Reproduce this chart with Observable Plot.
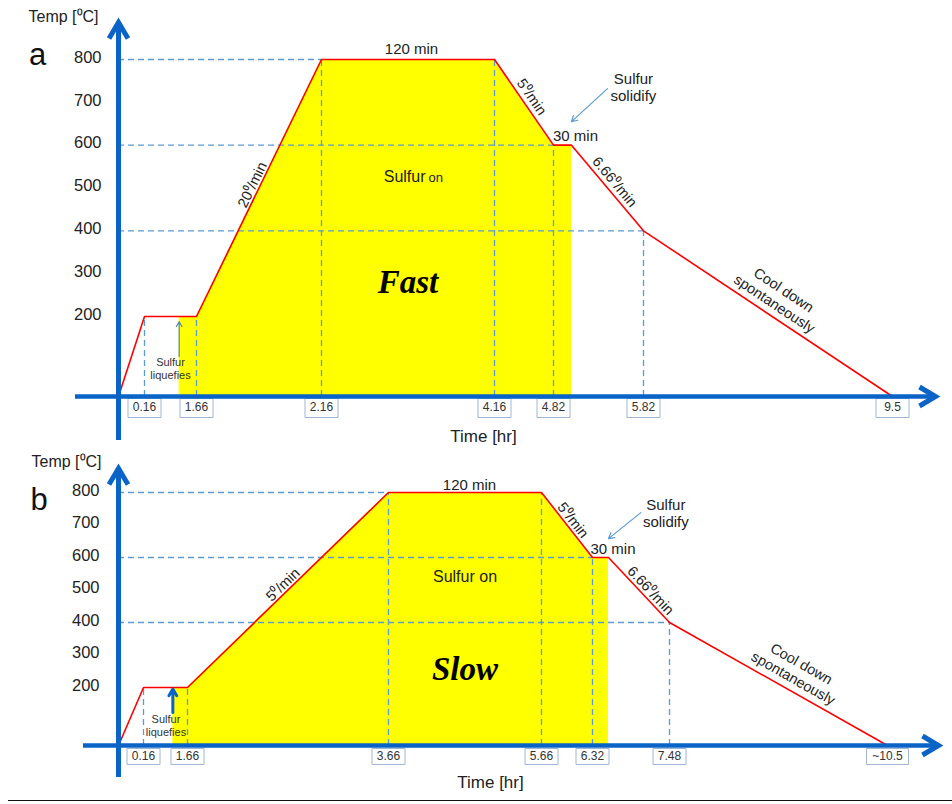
<!DOCTYPE html>
<html>
<head>
<meta charset="utf-8">
<script src="https://cdn.jsdelivr.net/npm/d3@7"></script>
<script src="https://cdn.jsdelivr.net/npm/@observablehq/plot@0.6"></script>
<style>
  body { margin: 0; background: #fff; font-family: "Liberation Sans", Arial, sans-serif; }
  #chart svg { display: block; }
  .bottom-rule { margin-left: 8px; width: 944px; border-top: 1.5px solid #111; }
</style>
</head>
<body>
<div id="chart"></div>
<div class="bottom-rule"></div>
<script>
// Furnace programs: time [hr] and temperature [°C] at each corner of the profile
const timeFast = [0, 0.16, 1.66, 2.16, 4.16, 4.82, 5.32, 5.82, 9.5];
const tempFast = [0, 200, 200, 800, 800, 600, 600, 400, 0];
const timeSlow = [0, 0.16, 1.66, 3.66, 5.66, 6.32, 6.82, 7.48, 10.5];
const tempSlow = [0, 200, 200, 800, 800, 600, 600, 400, 0];

// Labelled instants on the time axis
const tickTimesFast = [0.16, 1.66, 2.16, 4.16, 4.82, 5.82, 9.5];
const tickLabelsFast = ["0.16", "1.66", "2.16", "4.16", "4.82", "5.82", "9.5"];
const tickTimesSlow = [0.16, 1.66, 3.66, 5.66, 6.32, 7.48, 10.5];
const tickLabelsSlow = ["0.16", "1.66", "3.66", "5.66", "6.32", "7.48", "~10.5"];

// Temperature axis labels and dashed guide levels
const tempTicks = [200, 300, 400, 500, 600, 700, 800];
const guideTemps = [800, 600, 400];

// One annotation per profile segment, from the main ramp onwards
const segmentTextFast = ["20⁰/min", "120 min", "5⁰/min", "30 min", "6.66⁰/min", "Cool down\nspontaneously"];
const segmentTextSlow = ["5⁰/min", "120 min", "5⁰/min", "30 min", "6.66⁰/min", "Cool down\nspontaneously"];

// Time at which sulfur is liquid; the yellow band runs to the end of the 600 °C hold
const sulfurOnTime = 1.16;

const BLUE = "#0a64c8", GUIDE = "#5b9bd5", RED = "#ff0000", YELLOW = "#ffff00", INK = "#222";
const SANS = '"Liberation Sans", Arial, sans-serif';

// open chevron used as the axis arrowheads
const chevronRight = {draw(c) { c.moveTo(-16, -9.5); c.lineTo(0, 0); c.lineTo(-16, 9.5); }};
const chevronUp = {draw(c) { c.moveTo(-9.5, 16); c.lineTo(0, 0); c.lineTo(9.5, 16); }};
// framed box hanging below the time axis
const boxSymbol = (w, top, h) => ({draw(c) { c.rect(-w / 2, top, w, h); }});

function drawPanel(cfg) {
  const pts = cfg.time.map((t, i) => ({t, T: cfg.temp[i]}));
  const xOpts = {type: "linear", domain: cfg.time, range: cfg.xRange};
  const yOpts = {type: "linear", domain: cfg.yDomain, range: cfg.yRange};
  const sx = Plot.scale({x: xOpts}), sy = Plot.scale({y: yOpts});

  const liquidT = pts[1].T;
  const holdEnd = pts.filter(d => d.T === 600).pop().t;
  const band = [{t: sulfurOnTime, T: liquidT}, ...pts.filter(d => d.t > sulfurOnTime && d.t <= holdEnd)];
  const hGuides = guideTemps.map(T => ({T, t: pts.find(d => d.T === T).t}));
  const ticks = cfg.tickTimes.map((t, i) => ({t, label: cfg.tickLabels[i]}));
  const vGuides = ticks.slice(0, -1).map(d => ({t: d.t, T: pts.find(p => p.t === d.t).T}));
  const holdMid = (pts[3].t + pts[4].t) / 2;

  // rate / duration labels laid along each segment
  const segMarks = cfg.segText.map((text, k) => {
    const a = pts[k + 2], b = pts[k + 3];
    const x0 = sx.apply(a.t), y0 = sy.apply(a.T), x1 = sx.apply(b.t), y1 = sy.apply(b.T);
    const ang = Math.atan2(y1 - y0, x1 - x0);
    const [off, along, size] = cfg.segOffsets[k];
    return Plot.text([a], {
      x: "t", y: "T", text: () => text,
      rotate: ang * 180 / Math.PI,
      dx: (x1 - x0) / 2 + Math.sin(ang) * off + Math.cos(ang) * along,
      dy: (y1 - y0) / 2 - Math.cos(ang) * off + Math.sin(ang) * along,
      fontSize: size, fill: INK, lineHeight: 1.15, fontFamily: SANS
    });
  });

  const tickBoxes = ticks.map(d => Plot.dot([d], {
    x: "t", y: () => 0,
    symbol: boxSymbol(d.label.length > 4 ? 42 : 33, cfg.box[0], cfg.box[1]),
    fill: "white", stroke: "#9fb6d6", strokeWidth: 1
  }));

  const sulfurOnMarks = cfg.splitSulfurOn
    ? [
        Plot.text([{t: holdMid, T: cfg.sulfurOnT}], {x: "t", y: "T", text: () => "Sulfur", textAnchor: "end", dx: 17.5, fontSize: 16, fill: INK, fontFamily: SANS}),
        Plot.text([{t: holdMid, T: cfg.sulfurOnT}], {x: "t", y: "T", text: () => "on", textAnchor: "start", dx: 20.5, dy: 1, fontSize: 13, fill: INK, fontFamily: SANS})
      ]
    : [Plot.text([{t: holdMid, T: cfg.sulfurOnT}], {x: "t", y: "T", text: () => "Sulfur on", fontSize: 16, fill: INK, fontFamily: SANS})];

  return Plot.plot({
    width: 952,
    height: cfg.height,
    marginLeft: cfg.margins[0],
    marginRight: cfg.margins[1],
    marginTop: cfg.margins[2],
    marginBottom: cfg.margins[3],
    x: {...xOpts, axis: null},
    y: {...yOpts, axis: null},
    style: {fontFamily: SANS, background: "white", overflow: "visible"},
    marks: [
      // sulfur vapour present
      Plot.areaY(band, {x: "t", y: "T", fill: YELLOW}),
      // dashed reading guides
      Plot.ruleY(hGuides, {y: "T", x1: () => 0, x2: "t", stroke: GUIDE, strokeWidth: 1.3, strokeDasharray: "6,4"}),
      Plot.ruleX(vGuides, {x: "t", y1: () => 0, y2: "T", stroke: GUIDE, strokeWidth: 1.3, strokeDasharray: "6,4"}),
      // temperature program
      Plot.line(pts, {x: "t", y: "T", stroke: RED, strokeWidth: 1.6}),
      // time labels in boxes
      ...tickBoxes,
      Plot.text(ticks, {x: "t", y: () => 0, text: "label", dy: cfg.tickTextDy, fontSize: 12, fill: "#333"}),
      // axes with arrowheads
      Plot.ruleY([0], {stroke: BLUE, strokeWidth: 4.5}),
      Plot.ruleX([0], {stroke: BLUE, strokeWidth: 5}),
      Plot.dot([0], {y: d => d, frameAnchor: "right", symbol: chevronRight, fill: "none", stroke: BLUE, strokeWidth: 5, strokeLinejoin: "miter"}),
      Plot.dot([0], {x: d => d, frameAnchor: "top", symbol: chevronUp, fill: "none", stroke: BLUE, strokeWidth: 5, strokeLinejoin: "miter"}),
      // temperature labels
      Plot.text(tempTicks, {y: d => d, text: d => String(d), frameAnchor: "left", dx: cfg.yLabelDx, dy: -2, textAnchor: "end", fontSize: 16.5, fill: INK}),
      Plot.text(["Temp [⁰C]"], {text: d => d, frameAnchor: "top-left", textAnchor: "middle", lineAnchor: "middle", dx: cfg.tempLabel[0], dy: cfg.tempLabel[1], fontSize: 16, fill: INK}),
      Plot.text([cfg.letter], {text: d => d, frameAnchor: "top-left", textAnchor: "middle", lineAnchor: "middle", dx: cfg.letterPos[0], dy: cfg.letterPos[1], fontSize: 31, fill: "#111"}),
      Plot.text(["Time [hr]"], {text: d => d, frameAnchor: "bottom", textAnchor: "middle", lineAnchor: "middle", dx: cfg.timeLabel[0], dy: cfg.timeLabel[1], fontSize: 17, fill: INK}),
      // annotations
      ...segMarks,
      ...sulfurOnMarks,
      Plot.text([{t: holdMid, T: cfg.modeT}], {x: "t", y: "T", text: () => cfg.mode, fontFamily: '"Liberation Serif", "Times New Roman", serif', fontWeight: "bold", fontStyle: "italic", fontSize: 33, fill: "#000"}),
      Plot.text([cfg.liquefy], {x: "t", y: "T", text: () => "Sulfur\nliquefies", fontSize: 11, lineHeight: 1.2, fill: "#333"}),
      Plot.arrow([cfg.liquefy], {x1: () => sulfurOnTime, x2: () => sulfurOnTime, y1: "from", y2: "to", stroke: cfg.liquefy.color, strokeWidth: cfg.liquefy.width, headLength: cfg.liquefy.head}),
      Plot.text([cfg.solidify], {x: "t", y: "T", text: () => "Sulfur\nsolidify", fontSize: 15, lineHeight: 1.15, fill: INK}),
      Plot.arrow([cfg.solidify], {x1: "t1", y1: "T1", x2: "t2", y2: "T2", stroke: GUIDE, strokeWidth: 1.2, headLength: 8})
    ]
  });
}

const fast = {
  letter: "a", mode: "Fast", time: timeFast, temp: tempFast,
  tickTimes: tickTimesFast, tickLabels: tickLabelsFast, segText: segmentTextFast,
  height: 440, margins: [75, 17, 22, 0],
  xRange: [118, 144, 196, 321, 494, 553, 571, 643, 892],
  yDomain: [0, 200, 800], yRange: [396, 316, 59],
  yLabelDx: 26, box: [2, 19], tickTextDy: 11,
  segOffsets: [[8, 0, 14.5], [11, 3.5, 15], [10, 0, 14.5], [10, 13, 15], [10, 0, 14.5], [20.5, 0, 14.5]],
  liquefy: {t: 0.91, T: 70, from: 100, to: 187, color: "#4a86c8", width: 1.2, head: 7},
  solidify: {t: 5.75, T: 736, t1: 5.57, T1: 732, t2: 5.32, T2: 655},
  splitSulfurOn: true, sulfurOnT: 527, modeT: 279,
  tempLabel: [-12, -5.5], letterPos: [-38, 33], timeLabel: [-22, -4]
};

const slow = {
  letter: "b", mode: "Slow", time: timeSlow, temp: tempSlow,
  tickTimes: tickTimesSlow, tickLabels: tickLabelsSlow, segText: segmentTextSlow,
  height: 360, margins: [83, 14, 28, 23],
  xRange: [118, 143, 187, 388, 541, 592, 608, 669, 887],
  yDomain: [0, 200, 800], yRange: [305, 247, 52],
  yLabelDx: 16, box: [3, 16], tickTextDy: 11,
  segOffsets: [[8, 0, 14.5], [8, 4.5, 15], [8.2, 0, 14.5], [9, 12.5, 15], [8.7, 8.3, 14.5], [21, 10, 14.5]],
  liquefy: {t: 0.927, T: 69, from: 114, to: 195, color: BLUE, width: 3, head: 10},
  solidify: {t: 7.44, T: 737, t1: 7.17, T1: 738, t2: 6.82, T2: 658},
  splitSulfurOn: false, sulfurOnT: 541, modeT: 255,
  tempLabel: [-17, -7], letterPos: [-44.5, 32], timeLabel: [-20.5, 5]
};

const root = document.getElementById("chart");
root.append(drawPanel(fast));
root.append(drawPanel(slow));
</script>
</body>
</html>
